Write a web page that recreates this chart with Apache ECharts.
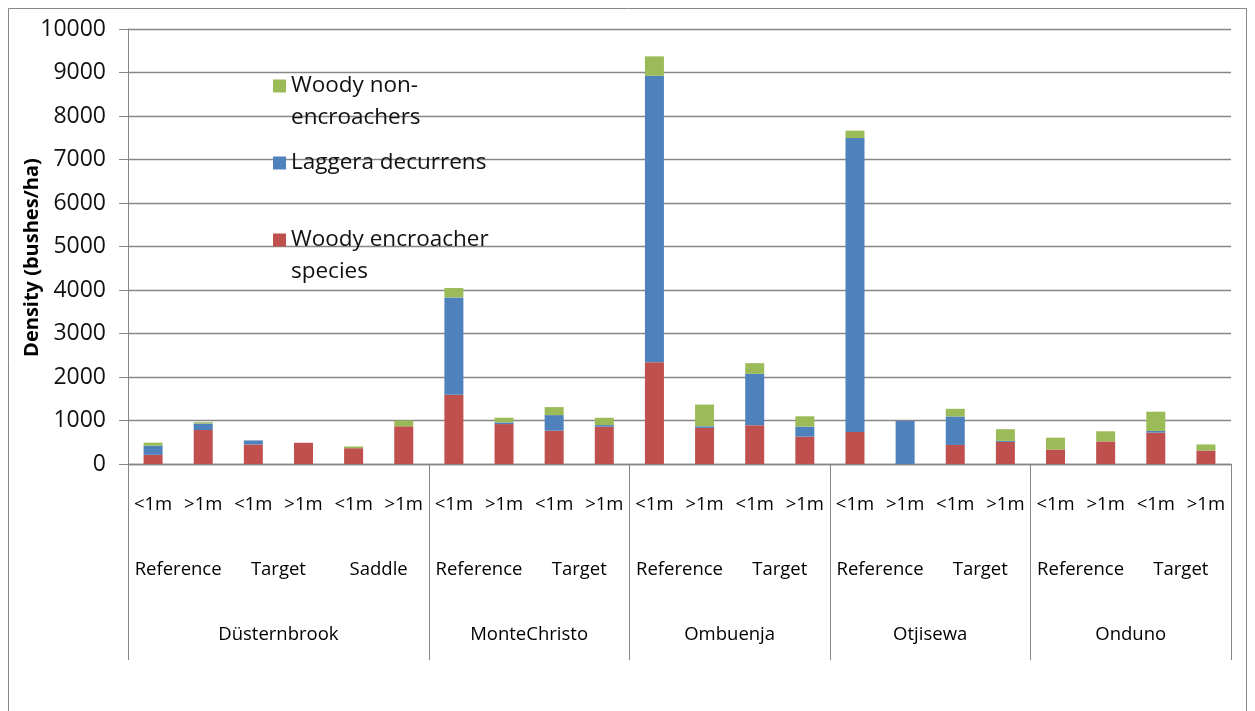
<!DOCTYPE html>
<html>
<head>
<meta charset="utf-8">
<script src="https://cdn.jsdelivr.net/npm/echarts@6/dist/echarts.min.js"></script>
<style>html,body{margin:0;padding:0;background:#fff}#c{width:1255px;height:711px}</style>
</head>
<body>
<div id="c"></div>
<script>
// ---- data ----
var sizeClasses = ['<1m', '>1m'];
var treatments = ['Reference', 'Target', 'Saddle', 'Reference', 'Target', 'Reference', 'Target', 'Reference', 'Target', 'Reference', 'Target'];
var sites = ['Düsternbrook', 'MonteChristo', 'Ombuenja', 'Otjisewa', 'Onduno'];
var siteBarCounts = [6, 4, 4, 4, 4];
var yTicks = [0, 10000, 1000];
var seriesNames = ['Woody encroacher species', 'Laggera decurrens', 'Woody non-encroachers'];
var encroachers = [210, 781, 449, 488, 363, 867, 1590, 918, 765, 857, 2340, 829, 890, 629, 738, 0, 438, 508, 333, 519, 721, 310];
var laggera = [210, 150, 93, 0, 0, 0, 2240, 38, 359, 38, 6585, 38, 1182, 231, 6755, 990, 654, 23, 0, 0, 39, 0];
var nonEncroachers = [70, 30, 0, 0, 40, 133, 215, 107, 184, 168, 446, 499, 246, 237, 170, 0, 177, 269, 272, 233, 442, 140];

// ---- derived axis data ----
var sizeCats = [];
treatments.forEach(function () { sizeClasses.forEach(function (s) { sizeCats.push(s); }); });
var nBars = sizeCats.length;
var siteSlots = [];
for (var i = 0; i <= nBars; i++) siteSlots.push('');
var boundaries = {0: true};
var pos = 0;
sites.forEach(function (s, k) {
  siteSlots[pos + siteBarCounts[k] / 2] = s;
  pos += siteBarCounts[k];
  boundaries[pos] = true;
});

var FONT = 'Open Sans';
var gray = '#878787';
var colors = ['#C0504D', '#4F81BD', '#9BBB59'];
var legendText = {
  'Woody non-encroachers': '\nWoody non-\nencroachers',
  'Laggera decurrens': 'Laggera decurrens',
  'Woody encroacher species': '\nWoody encroacher\nspecies'
};
function mkLegend(name, top) {
  return {
    data: [name], left: 273, top: top, padding: 0, orient: 'vertical',
    icon: 'rect', itemWidth: 13, itemHeight: 13, itemGap: 0,
    formatter: function (n) { return legendText[n]; },
    textStyle: { fontFamily: FONT, fontSize: 22.5, color: '#111', lineHeight: 32 },
    selectedMode: false
  };
}

var chart = echarts.init(document.getElementById('c'));
chart.setOption({
  animation: false,
  color: colors,
  graphic: [{ type: 'rect', shape: { x: 8.5, y: 8.5, width: 1238, height: 730 }, style: { fill: 'none', stroke: gray, lineWidth: 1 }, silent: true }],
  grid: { left: 128, right: 24, top: 29, bottom: 247 },
  legend: [mkLegend('Woody non-encroachers', 38), mkLegend('Laggera decurrens', 147), mkLegend('Woody encroacher species', 192)],
  yAxis: {
    type: 'value', min: yTicks[0], max: yTicks[1], interval: yTicks[2],
    name: 'Density (bushes/ha)', nameLocation: 'middle', nameGap: 86, nameMoveOverlap: false,
    nameTextStyle: { fontFamily: FONT, fontSize: 20, fontWeight: 'bold', color: '#000', padding: [0, 22, 0, 0] },
    axisLine: { show: true, lineStyle: { color: gray, width: 1 } },
    axisTick: { show: true, length: 9, lineStyle: { color: gray } },
    axisLabel: { fontFamily: FONT, fontSize: 23, color: '#111', margin: 22, formatter: function (v) { return String(v); } },
    splitLine: { lineStyle: { color: gray, width: 1.3 } }
  },
  xAxis: [
    {
      type: 'category', data: sizeCats, position: 'bottom',
      axisLine: { lineStyle: { color: gray, width: 1.3 } },
      axisTick: { length: 66, interval: 0, lineStyle: { color: gray } },
      axisLabel: { interval: 0, fontFamily: FONT, fontSize: 18.5, color: '#000', margin: 31 }
    },
    {
      type: 'category', data: treatments, position: 'bottom',
      axisLine: { show: false },
      axisTick: { length: 133, interval: 0, lineStyle: { color: gray } },
      axisLabel: { interval: 0, fontFamily: FONT, fontSize: 18.5, color: '#000', margin: 96 }
    },
    {
      type: 'category', data: siteSlots, position: 'bottom', boundaryGap: false,
      axisLine: { show: false },
      axisTick: { length: 196, interval: function (idx) { return !!boundaries[idx]; }, lineStyle: { color: gray } },
      axisLabel: { interval: function (idx, v) { return v !== ''; }, fontFamily: FONT, fontSize: 18.5, color: '#000', margin: 161 }
    }
  ],
  series: [
    { name: seriesNames[0], type: 'bar', stack: 's', xAxisIndex: 0, data: encroachers, barWidth: 19 },
    { name: seriesNames[1], type: 'bar', stack: 's', xAxisIndex: 0, data: laggera, barWidth: 19 },
    { name: seriesNames[2], type: 'bar', stack: 's', xAxisIndex: 0, data: nonEncroachers, barWidth: 19 }
  ]
});
</script>
</body>
</html>
